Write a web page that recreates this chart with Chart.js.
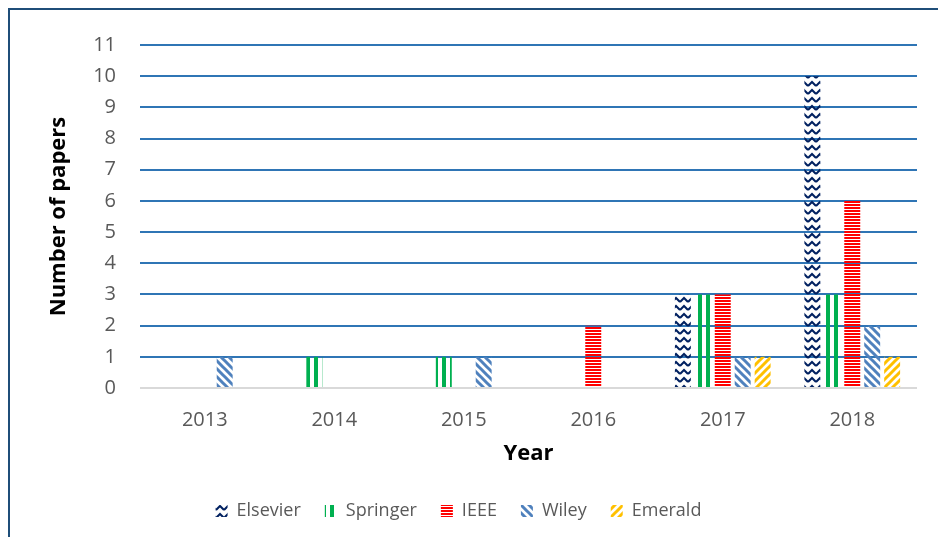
<!DOCTYPE html>
<html>
<head>
<meta charset="utf-8">
<script src="https://cdn.jsdelivr.net/npm/chart.js@4"></script>
<style>
  body { margin: 0; background: #fff; }
  #wrap { position: relative; width: 938px; height: 537px; }
  #frame { position: absolute; left: 8px; top: 8px; right: 0; bottom: 0;
           border-top: 2px solid #1F4E79; border-left: 2px solid #1F4E79; pointer-events: none; }
</style>
</head>
<body>
<div id="wrap">
  <canvas id="papersChart" width="938" height="537"></canvas>
  <div id="frame"></div>
</div>
<script>
// Données
const years = ['2013', '2014', '2015', '2016', '2017', '2018'];
const elsevier = [0, 0, 0, 0, 3, 10];
const springer = [0, 1, 1, 0, 3, 3];
const ieee     = [0, 0, 0, 2, 3, 6];
const wiley    = [1, 0, 1, 0, 1, 2];
const emerald  = [0, 0, 0, 0, 1, 1];

// motifs de remplissage
function pattern(kind, color) {
  const c = document.createElement('canvas');
  const g = c.getContext('2d');
  if (kind === 'zigzag') {
    c.width = 8; c.height = 8;
    g.strokeStyle = color; g.lineWidth = 2;
    g.beginPath();
    g.moveTo(0, 6); g.lineTo(4, 2); g.lineTo(8, 6);
    g.stroke();
  } else if (kind === 'vertical') {
    c.width = 8; c.height = 8;
    g.fillStyle = color;
    g.fillRect(2, 0, 4, 8);
  } else if (kind === 'horizontal') {
    c.width = 4; c.height = 3;
    g.fillStyle = color;
    g.fillRect(0, 0, 4, 2);
  } else if (kind === 'down') {
    c.width = 8; c.height = 8;
    g.strokeStyle = color; g.lineWidth = 3;
    g.beginPath();
    g.moveTo(-2, -2); g.lineTo(10, 10);
    g.moveTo(-6, 2); g.lineTo(2, 10);
    g.moveTo(6, -2); g.lineTo(10, 2);
    g.stroke();
  } else if (kind === 'up') {
    c.width = 8; c.height = 8;
    g.strokeStyle = color; g.lineWidth = 3;
    g.beginPath();
    g.moveTo(-2, 10); g.lineTo(10, -2);
    g.moveTo(-2, 2); g.lineTo(2, -2);
    g.moveTo(6, 10); g.lineTo(10, 6);
    g.stroke();
  }
  return g.createPattern(c, 'repeat');
}

const ctx = document.getElementById('papersChart').getContext('2d');
const chart = new Chart(ctx, {
  type: 'bar',
  data: {
    labels: years,
    datasets: [
      { label: 'Elsevier', data: elsevier, backgroundColor: pattern('zigzag', '#002060') },
      { label: 'Springer', data: springer, backgroundColor: pattern('vertical', '#00B050') },
      { label: 'IEEE', data: ieee, backgroundColor: pattern('horizontal', '#FF0000') },
      { label: 'Wiley', data: wiley, backgroundColor: pattern('down', '#4F81BD') },
      { label: 'Emerald', data: emerald, backgroundColor: pattern('up', '#FFC000') }
    ]
  },
  options: {
    responsive: false,
    animation: false,
    categoryPercentage: 0.77,
    barPercentage: 0.8,
    layout: { padding: { top: 45, right: 21, left: 0, bottom: 7 } },
    plugins: {
      legend: {
        position: 'bottom',
        labels: {
          boxWidth: 12,
          boxHeight: 12,
          padding: 24,
          color: '#595959',
          font: { family: 'Open Sans', size: 18 }
        }
      },
      tooltip: { enabled: false }
    },
    scales: {
      x: {
        grid: { display: false },
        border: { display: false },
        ticks: { color: '#595959', padding: 12, font: { family: 'Open Sans', size: 20 } },
        title: {
          display: true,
          text: 'Year',
          color: '#000',
          padding: { top: 4, bottom: 11 },
          font: { family: 'Open Sans', size: 22, weight: 'bold' }
        },
        afterFit: (s) => { s.height = 90; }
      },
      y: {
        min: 0,
        max: 11,
        border: { display: false },
        grid: {
          drawTicks: false,
          lineWidth: 2,
          color: (c) => c.tick.value === 0 ? '#D9D9D9' : '#2F75B5'
        },
        ticks: { stepSize: 1, color: '#595959', padding: 24, font: { family: 'Open Sans', size: 20 } },
        title: {
          display: true,
          text: 'Number of papers',
          color: '#000',
          padding: { top: 46, bottom: 0 },
          font: { family: 'Open Sans', size: 22, weight: 'bold' }
        },
        afterFit: (s) => { s.width = 140; }
      }
    }
  }
});
</script>
</body>
</html>
